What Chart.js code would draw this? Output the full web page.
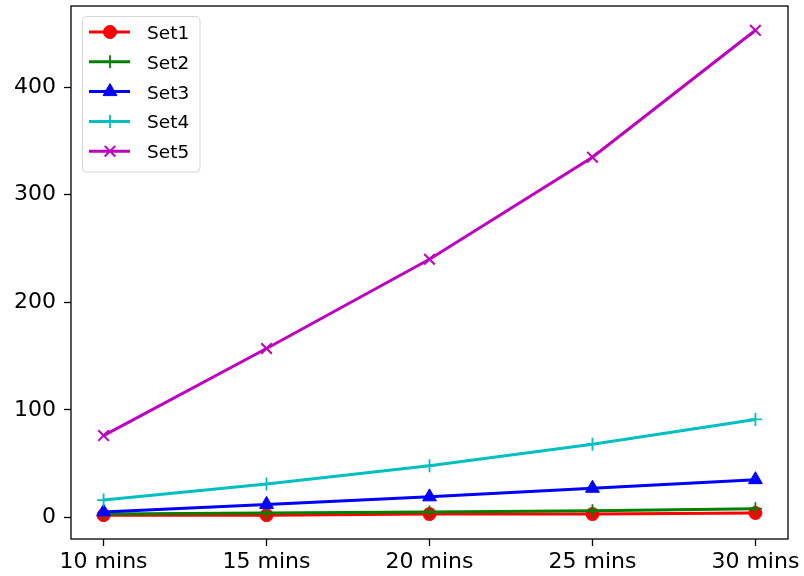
<!DOCTYPE html>
<html>
<head>
<meta charset="utf-8">
<script src="https://cdn.jsdelivr.net/npm/chart.js@4/dist/chart.umd.min.js"></script>
<style>
  html, body { margin: 0; padding: 0; background: #ffffff; }
  #c { display: block; }
</style>
</head>
<body>
<canvas id="c" width="804" height="576"></canvas>
<script>
// Elapsed-time categories and the five measured series
const categories = ['10 mins', '15 mins', '20 mins', '25 mins', '30 mins'];
const set1 = [2, 2, 3, 3, 4];
const set2 = [3, 4, 5, 6, 8];
const set3 = [5, 12, 19, 27, 35];
const set4 = [16, 31, 48, 68, 91];
const set5 = [76, 157, 240, 335, 453];
const yTickValues = [0, 100, 200, 300, 400];

const seriesNames = ['Set1', 'Set2', 'Set3', 'Set4', 'Set5'];
const seriesValues = [set1, set2, set3, set4, set5];
const seriesColors = ['#ff0000', '#008000', '#0000ff', '#00bfbf', '#bf00bf'];
const seriesMarkers = ['circle', 'cross', 'triangle', 'cross', 'crossRot'];
const markerRadius = [6.5, 6.5, 8, 6.5, 7.5];
const markerBorder = [1, 1.8, 1, 1.8, 2];

const FONT = "'DejaVu Sans', sans-serif";
const PLOT_TOP = 6;

const datasets = seriesValues.map((vals, i) => ({
  label: seriesNames[i],
  data: vals.map((v, k) => ({ x: k, y: v })),
  borderColor: seriesColors[i],
  backgroundColor: seriesColors[i],
  borderWidth: 3,
  pointStyle: seriesMarkers[i],
  pointRadius: markerRadius[i],
  pointHoverRadius: markerRadius[i],
  pointBorderWidth: markerBorder[i],
  pointBackgroundColor: seriesColors[i],
  pointBorderColor: seriesColors[i],
  tension: 0,
  order: seriesNames.length - i
}));

// Pin the top edge of the plotting area
const pinTop = {
  id: 'pinTop',
  afterLayout(chart) {
    const ca = chart.chartArea;
    if (Math.abs(ca.top - PLOT_TOP) > 0.01) {
      ca.top = PLOT_TOP;
      ca.height = ca.bottom - PLOT_TOP;
      const y = chart.scales.y;
      y.top = PLOT_TOP;
      y.height = y.bottom - PLOT_TOP;
      y.configure();
      y._labelItems = null;
      y._gridLineItems = null;
    }
  }
};

// Black frame around the plotting area
const frame = {
  id: 'frame',
  afterDatasetsDraw(chart) {
    const { left, right, top, bottom } = chart.chartArea;
    const ctx = chart.ctx;
    ctx.save();
    ctx.strokeStyle = '#000000';
    ctx.lineWidth = 1.3;
    ctx.strokeRect(left, top, right - left, bottom - top);
    ctx.restore();
  }
};

// Legend box in the upper-left corner with line + marker samples
const legendBox = {
  id: 'legendBox',
  afterDraw(chart) {
    const ctx = chart.ctx;
    const { left, top } = chart.chartArea;
    const x0 = left + 11.5, y0 = top + 10.5, w = 117.5, h = 155.5, r = 4;
    ctx.save();
    ctx.beginPath();
    ctx.moveTo(x0 + r, y0);
    ctx.lineTo(x0 + w - r, y0);
    ctx.arcTo(x0 + w, y0, x0 + w, y0 + r, r);
    ctx.lineTo(x0 + w, y0 + h - r);
    ctx.arcTo(x0 + w, y0 + h, x0 + w - r, y0 + h, r);
    ctx.lineTo(x0 + r, y0 + h);
    ctx.arcTo(x0, y0 + h, x0, y0 + h - r, r);
    ctx.lineTo(x0, y0 + r);
    ctx.arcTo(x0, y0, x0 + r, y0, r);
    ctx.closePath();
    ctx.fillStyle = 'rgba(255,255,255,0.8)';
    ctx.fill();
    ctx.strokeStyle = '#d6d6d6';
    ctx.lineWidth = 1;
    ctx.stroke();

    chart.data.datasets.forEach((ds, i) => {
      const y = y0 + 15.5 + i * 29.8;
      ctx.strokeStyle = ds.borderColor;
      ctx.lineWidth = ds.borderWidth;
      ctx.beginPath();
      ctx.moveTo(x0 + 6.5, y);
      ctx.lineTo(x0 + 47.5, y);
      ctx.stroke();
      ctx.fillStyle = ds.pointBackgroundColor;
      ctx.strokeStyle = ds.pointBorderColor;
      ctx.lineWidth = ds.pointBorderWidth;
      Chart.helpers.drawPoint(ctx, {
        pointStyle: ds.pointStyle,
        radius: ds.pointRadius,
        borderWidth: ds.pointBorderWidth,
        rotation: 0
      }, x0 + 27.5, y);
      ctx.fillStyle = '#000000';
      ctx.font = '18.5px ' + FONT;
      ctx.textAlign = 'left';
      ctx.textBaseline = 'alphabetic';
      ctx.fillText(ds.label, x0 + 64.5, y + 7);
    });
    ctx.restore();
  }
};

new Chart(document.getElementById('c'), {
  type: 'line',
  data: { datasets },
  options: {
    responsive: false,
    animation: false,
    devicePixelRatio: 1,
    layout: { padding: { top: PLOT_TOP, right: 16, left: 0, bottom: 0 } },
    plugins: {
      legend: { display: false },
      tooltip: { enabled: false }
    },
    scales: {
      x: {
        type: 'linear',
        min: -0.2,
        max: 4.2,
        afterBuildTicks: (scale) => { scale.ticks = categories.map((_, k) => ({ value: k })); },
        afterFit: (scale) => {
          scale.height = 37;
          scale.paddingLeft = 0;
          scale.paddingRight = 0;
        },
        border: { display: false },
        grid: {
          drawOnChartArea: false,
          drawTicks: true,
          tickLength: 7,
          tickWidth: 1.3,
          color: '#000000'
        },
        ticks: {
          autoSkip: false,
          maxRotation: 0,
          padding: 3,
          color: '#000000',
          font: { family: FONT, size: 22 },
          callback: (v) => categories[v]
        }
      },
      y: {
        type: 'linear',
        min: -20.2,
        max: 475.6,
        afterBuildTicks: (scale) => { scale.ticks = yTickValues.map(v => ({ value: v })); },
        afterFit: (scale) => {
          scale.width = 71;
          scale.paddingTop = 0;
          scale.paddingBottom = 0;
        },
        border: { display: false },
        grid: {
          drawOnChartArea: false,
          drawTicks: true,
          tickLength: 7,
          tickWidth: 1.3,
          color: '#000000'
        },
        ticks: {
          padding: 8,
          color: '#000000',
          font: { family: FONT, size: 22 },
          callback: (v) => String(v)
        }
      }
    }
  },
  plugins: [pinTop, frame, legendBox]
});
</script>
</body>
</html>
